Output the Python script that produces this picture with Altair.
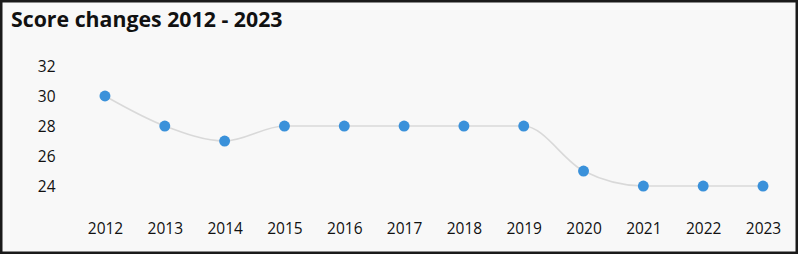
import altair as alt
import pandas as pd

years = [2012, 2013, 2014, 2015, 2016, 2017, 2018, 2019, 2020, 2021, 2022, 2023]
scores = [30, 28, 27, 28, 28, 28, 28, 28, 25, 24, 24, 24]
y_ticks = [24, 26, 28, 30, 32]

df = pd.DataFrame({"year": years, "score": scores})

x_enc = alt.X(
    "year:Q",
    scale=alt.Scale(domain=[2010.245, 2023.585], nice=False, zero=False),
    axis=alt.Axis(values=years, format="d", title=None, ticks=False, domain=False,
                  grid=False, labelPadding=0, offset=-33, labelFontSize=15.5,
                  labelFont="Open Sans", labelColor="#111111"),
)
y_enc = alt.Y(
    "score:Q",
    scale=alt.Scale(domain=[19.467, 36.4], nice=False, zero=False),
    axis=alt.Axis(values=y_ticks, title=None, ticks=False, domain=False, grid=False,
                  labelPadding=4, offset=-59, labelFontSize=15.5, labelFont="Open Sans",
                  labelColor="#111111"),
)

base = alt.Chart(df).encode(x=x_enc, y=y_enc)

line = base.mark_line(interpolate="monotone", color="#d9d9d9", strokeWidth=1.6)
points = base.mark_circle(size=120, color="#3a91da", opacity=1)

chart = (
    alt.layer(line, points)
    .properties(
        width=798,
        height=254,
        autosize=alt.AutoSizeParams(type="none"),
        padding=0,
        background="#f8f8f8",
        title=alt.TitleParams(
            "Score changes 2012 - 2023",
            anchor="start",
            frame="group",
            font="Open Sans",
            fontSize=21.3,
            fontWeight="bold",
            color="#111111",
            baseline="alphabetic",
            offset=0,
            dx=11,
            dy=48,
        ),
    )
    .configure_view(stroke="#1a1a1a", strokeWidth=5, fill="#f8f8f8")
)

chart.save("out.html", embed_options={"renderer": "svg", "actions": False})
